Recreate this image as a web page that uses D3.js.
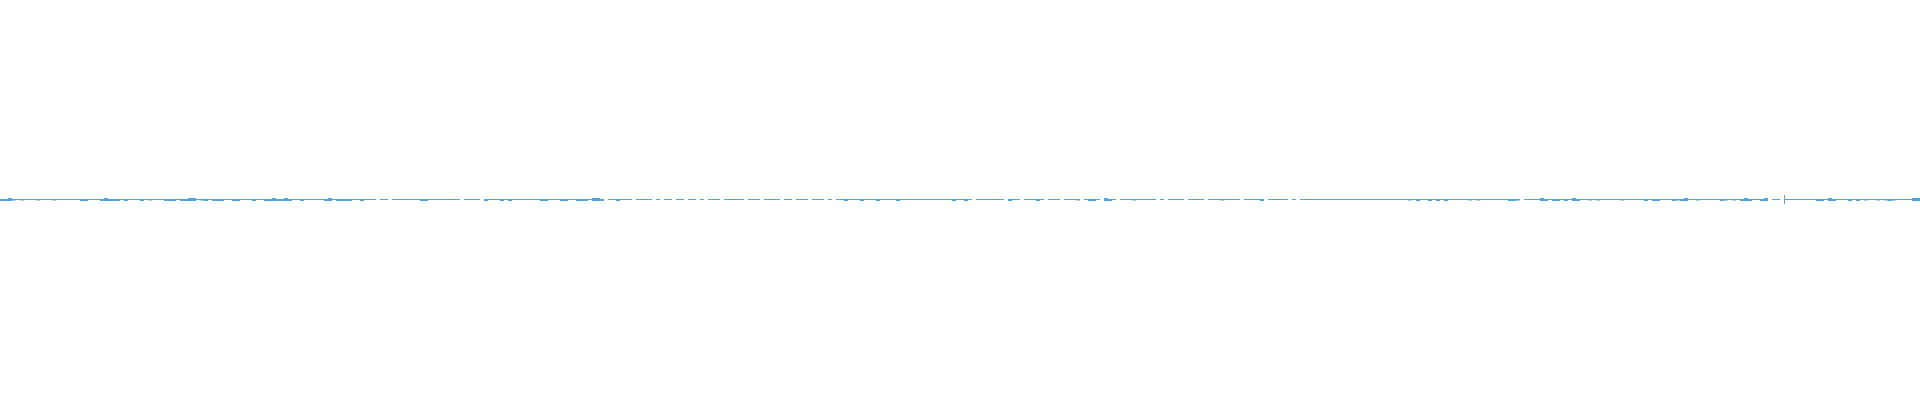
<!DOCTYPE html>
<html>
<head>
<meta charset="utf-8">
<script src="https://cdn.jsdelivr.net/npm/d3@7"></script>
<style>
  html, body { margin: 0; padding: 0; background: #ffffff; }
  svg { display: block; }
</style>
</head>
<body>
<svg id="chart" width="1920" height="400"></svg>
<script>
// Sampled series, one character per sample (480 samples across the width, 10 per group).
// '-' steady value, 'd' small dip, 't' tiny dip, 'u' small swing both ways, '_' missing.
const seriesPart1 = [
  "ddut-t---t", "---t------", "dd---duddd", "-d---d-t--",
  "-ddd-dduu-", "td-ddd--dd", "---d--ddud", "dud--d----"
];
const seriesPart2 = [
  "-du-dddd--", "d---_--_--", "-----dd---", "-----_----",
  "_d---d-d--", "-----dd---", "dd--ddd-uu", "d_--d---_-"
];
const seriesPart3 = [
  "---_-_--_-", "-_--_-_---", "_-----_---", "_----_--_-",
  "--_---_-_-", "-d---d---d", "----d-----", "--------d-"
];
const seriesPart4 = [
  "-d-_------", "-_d--_---d", "-_---_---t", "_-dd-_ud-_",
  "---t-----_", "-_----_---", "-_---t----", "_----d_---"
];
const seriesPart5 = [
  "--_-_-----", "----------", "----------", "--t-d--d-d",
  "-d-----t-t", "-------ddt", "_----ud-dd", "-d-ud--t-t"
];
const seriesPart6 = [
  "-----t----", "-d-dd---dt", "du--t-----", "dt-t-dud--",
  "du_--_----", "----dd-ud-", "--d-d-t--t", "-tdt----uu"
];
// value range (low, high) for each sample code
const levels = {
  "-": [-0.5, 0.5],
  "d": [-1.5, 0.5],
  "t": [-1.0, 0.5],
  "u": [-1.5, 1.5],
  "_": null
};
// isolated outliers: sample position, low, high
const spikes = [
  { t: 446.1, lo: -4.5, hi: 4.5 }
];

const color = "#4ea3e2";
const W = 1920, H = 400;

const codes = [seriesPart1, seriesPart2, seriesPart3, seriesPart4, seriesPart5, seriesPart6]
  .map(p => p.join("")).join("").split("");
const nSamples = codes.length;

const x = d3.scaleLinear().domain([0, nSamples]).range([0, W]);
const y = d3.scaleLinear().domain([-200, 200]).range([399.5, -0.5]);

const pts = [];
codes.forEach((c, i) => {
  const lv = levels[c];
  if (lv) {
    pts.push({ t: i, lo: lv[0], hi: lv[1] });
    pts.push({ t: i + 1, lo: lv[0], hi: lv[1] });
  } else {
    pts.push({ t: i, lo: null, hi: null });
  }
});

const svg = d3.select("#chart");

const area = d3.area()
  .defined(d => d.lo !== null)
  .x(d => x(d.t))
  .y0(d => y(d.lo))
  .y1(d => y(d.hi));

svg.append("path")
  .datum(pts)
  .attr("fill", color)
  .attr("stroke", "none")
  .attr("d", area);

svg.selectAll("line.spike")
  .data(spikes)
  .join("line")
  .attr("class", "spike")
  .attr("x1", d => Math.round(x(d.t)) + 0.5)
  .attr("x2", d => Math.round(x(d.t)) + 0.5)
  .attr("y1", d => y(d.hi))
  .attr("y2", d => y(d.lo))
  .attr("stroke", color)
  .attr("stroke-width", 1);
</script>
</body>
</html>
